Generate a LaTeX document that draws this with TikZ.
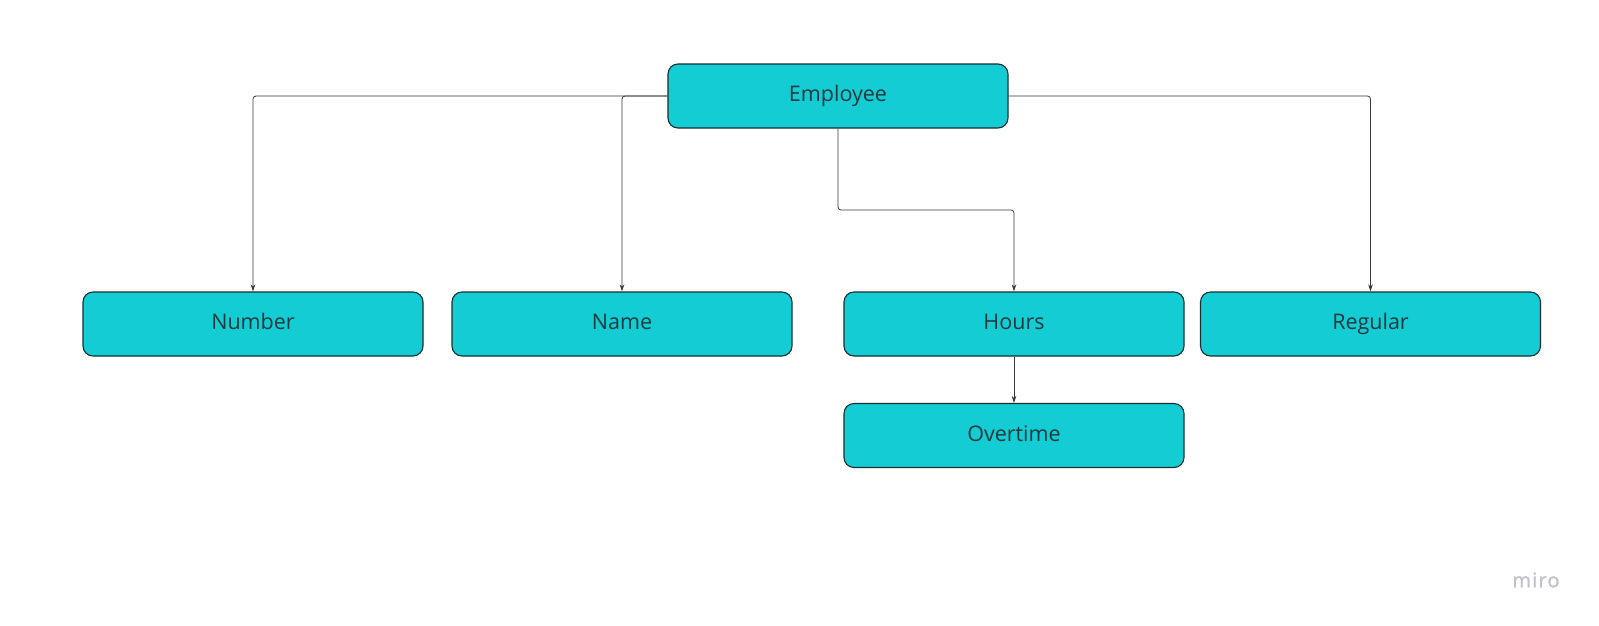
\documentclass[tikz,border=0pt]{standalone}
\usepackage{fontspec}
\setmainfont{Open Sans}
\usetikzlibrary{arrows.meta}
\definecolor{boxfill}{HTML}{14CCD4}
\definecolor{boxline}{HTML}{1A2E30}
\definecolor{txt}{HTML}{1F3A3D}
\definecolor{conn}{HTML}{3A3A3A}
\definecolor{logo}{HTML}{BFC2CD}
\begin{document}
\begin{tikzpicture}[x=1pt,y=-1pt,
  box/.style={draw=boxline, fill=boxfill, line width=1.1pt, rounded corners=10pt,
    minimum width=340pt, minimum height=64pt, inner sep=0pt, text=txt,
    text height=15.4pt, text depth=4pt,
    font=\fontsize{21.5}{26}\selectfont},
  conn/.style={draw=conn, line width=0.8pt, rounded corners=3pt,
    -{Stealth[length=7pt,width=4.5pt]}}]
\useasboundingbox (0,0) rectangle (1599,625);
\fill[white] (0,0) rectangle (1599,625);
\node[box] (emp) at (838,96) {Employee};
\node[box] (num) at (253,324) {Number};
\node[box] (name) at (622,324) {Name};
\node[box] (hours) at (1014,324) {Hours};
\node[box] (reg) at (1370.5,324) {Regular};
\node[box] (over) at (1014,435.5) {Overtime};
\coordinate (bend) at (838,210);
\draw[conn] (emp.west) -| (num.north);
\draw[conn] (emp.west) -| (name.north);
\draw[conn] (emp.east) -| (reg.north);
\draw[conn] (emp.south) -- (bend) -| (hours.north);
\draw[conn] (hours.south) -- (over.north);
\node[text=logo, font=\fontsize{20}{24}\selectfont\addfontfeature{LetterSpace=6,FakeBold=1.2}, anchor=center] (miro) at (1536,580) {miro};
\end{tikzpicture}
\end{document}
